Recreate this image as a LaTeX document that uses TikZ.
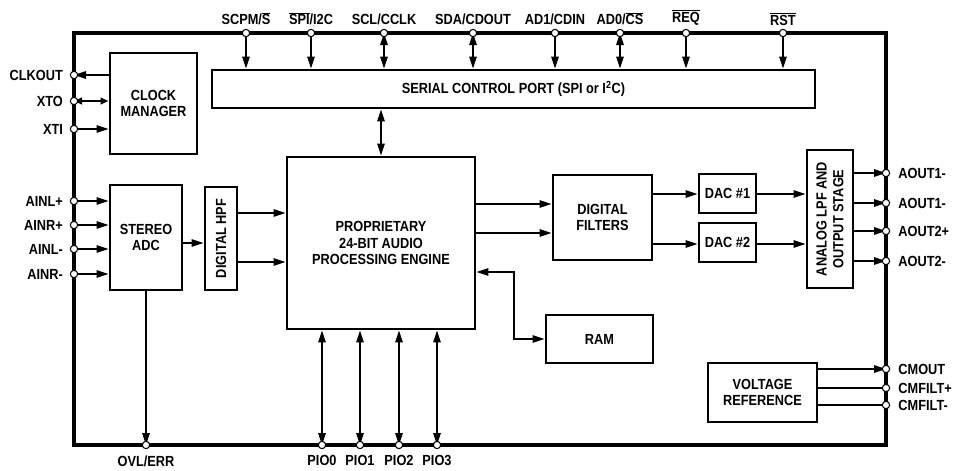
\documentclass[tikz,border=0pt]{standalone}
\usepackage{fontspec}
\setmainfont{Liberation Sans}[FakeStretch=0.87]
\usetikzlibrary{arrows.meta}
\newcommand\myol[1]{$\overline{\mbox{#1}}$}
\begin{document}
\begin{tikzpicture}[x=0.75pt,y=-0.75pt,
  font=\fontsize{11}{12.5}\selectfont\bfseries,
  box/.style 2 args={draw, line width=2.2pt, minimum width=#1*0.75pt, minimum height=#2*0.75pt, inner sep=0pt, align=center},
  pin/.style={circle, draw, fill=white, line width=0.8pt, inner sep=0pt, minimum size=5.5pt},
  con/.style={line width=1.4pt},
  lab/.style={inner sep=0pt, font=\fontsize{11}{12.5}\selectfont\bfseries},
  >={Triangle[length=9pt,width=5.5pt]},
  small/.style={>={Triangle[length=6pt,width=5pt]}}
]
\useasboundingbox (0,0) rectangle (953,471);

% chip outline
\node[draw, line width=3pt, minimum width=812*0.75pt, minimum height=412*0.75pt, inner sep=0pt] (chip) at (480,239) {};

% blocks
\node[box={87}{101}] (clock) at (153.5,103.5) {CLOCK\\MANAGER};
\node[box={603}{38}] (scp) at (513.5,89) {SERIAL CONTROL PORT (SPI or I\textsuperscript{2}C)};
\node[box={188}{172}] (engine) at (381,243) {PROPRIETARY\\24-BIT AUDIO\\PROCESSING ENGINE};
\node[box={72}{105}] (adc) at (146,237.5) {STEREO\\ADC};
\node[box={32}{103}] (hpf) at (221,238.5) {};
\node[rotate=90, lab] (hpft) at (hpf) {DIGITAL HPF};
\node[box={99}{85}] (filt) at (602.5,217.5) {DIGITAL\\FILTERS};
\node[box={57}{39}] (dac1) at (727.5,193.5) {DAC \#1};
\node[box={57}{39}] (dac2) at (727.5,242.5) {DAC \#2};
\node[box={46}{138}] (lpf) at (830,219) {};
\node[rotate=90, lab, align=center] (lpft) at (lpf) {ANALOG LPF AND\\OUTPUT STAGE};
\node[box={107}{48}] (ram) at (599.5,339) {RAM};
\node[box={109}{59}] (vref) at (762.5,392.5) {VOLTAGE\\REFERENCE};

% pins top
\foreach \n/\x in {scpm/246, spi/311, scl/384, sda/473, ad1/555, ad0/620, req/686, rst/783}
  \coordinate (\n) at (\x,33);
% pins left
\foreach \n/\y in {clkout/75, xto/101, xti/129, ainlp/201, ainrp/225, ainlm/249, ainrm/274}
  \coordinate (\n) at (74,\y);
% pins right
\foreach \n/\y in {aoa/173, aob/203, aoc/231, aod/261, cmout/369, cmfp/388, cmfm/405}
  \coordinate (\n) at (886,\y);
% pins bottom
\foreach \n/\x in {ovl/146, pioa/322, piob/360, pioc/399, piod/437}
  \coordinate (\n) at (\x,445);

% connectors top
\foreach \n in {scpm, spi, ad1, req, rst}
  \draw[con,->] (\n) -- (\n |- scp.north);
\foreach \n in {scl, sda, ad0}
  \draw[con,<->] (\n) -- (\n |- scp.north);
\draw[con,<->] (scp.south -| engine.north) -- (engine.north);

% clock
\draw[con,->] (clock.west |- clkout) -- (clkout);
\draw[con,<->,small] (xto) -- (clock.west |- xto);
\draw[con,->] (xti) -- (clock.west |- xti);

% adc inputs
\foreach \n in {ainlp, ainrp, ainlm, ainrm}
  \draw[con,->] (\n) -- (adc.west |- \n);
\draw[con,->] (adc.east |- 0,243) -- (hpf.west |- 0,243);
\draw[con,->] (hpf.east |- 0,213) -- (engine.west |- 0,213);
\draw[con,->] (hpf.east |- 0,262) -- (engine.west |- 0,262);
\draw[con,->] (adc.south) -- (ovl);

% engine bottom
\foreach \n in {pioa, piob, pioc, piod}
  \draw[con,<->] (\n |- engine.south) -- (\n);

% engine to filters
\draw[con,->] (engine.east |- 0,204) -- (filt.west |- 0,204);
\draw[con,->] (engine.east |- 0,233) -- (filt.west |- 0,233);
\draw[con,->] (filt.east |- 0,194) -- (dac1.west |- 0,194);
\draw[con,->] (filt.east |- 0,244) -- (dac2.west |- 0,244);
\draw[con,->] (dac1.east |- 0,194) -- (lpf.west |- 0,194);
\draw[con,->] (dac2.east |- 0,244) -- (lpf.west |- 0,244);
\foreach \n in {aoa, aob, aoc, aod}
  \draw[con,->] (lpf.east |- \n) -- (\n);

% ram
\draw[con,<->] (engine.east |- 0,272) -- (514,272) |- (ram.west);

% vref
\draw[con,->] (vref.east |- cmout) -- (cmout);
\draw[con] (vref.east |- cmfp) -- (cmfp);
\draw[con] (vref.east |- cmfm) -- (cmfm);

% pin circles and labels
\foreach \n/\t in {scpm/{SCPM/\myol{S}}, spi/{\myol{SPI}/I2C}, scl/{SCL/CCLK}, sda/{SDA/CDOUT}, ad1/{AD1/CDIN}, ad0/{AD0/\myol{CS}}, req/{\myol{REQ}}, rst/{\myol{RST}}}
  \node[pin, label={[lab, label distance=2.5pt]above:\t}] (\n p) at (\n) {};
\foreach \n/\t in {clkout/CLKOUT, xto/XTO, xti/XTI, ainlp/AINL+, ainrp/AINR+, ainlm/AINL-, ainrm/AINR-}
  \node[pin, label={[lab, label distance=5pt]left:\t}] (\n p) at (\n) {};
\foreach \n/\t in {aoa/AOUT1-, aob/AOUT1-, aoc/AOUT2+, aod/AOUT2-, cmout/CMOUT, cmfp/CMFILT+, cmfm/CMFILT-}
  \node[pin, label={[lab, label distance=6pt]right:\t}] (\n p) at (\n) {};
\foreach \n/\t in {ovl/{OVL/ERR}, pioa/PIO0, piob/PIO1, pioc/PIO2, piod/PIO3}
  \node[pin, label={[lab, label distance=4.5pt]below:\t}] (\n p) at (\n) {};
\end{tikzpicture}
\end{document}
